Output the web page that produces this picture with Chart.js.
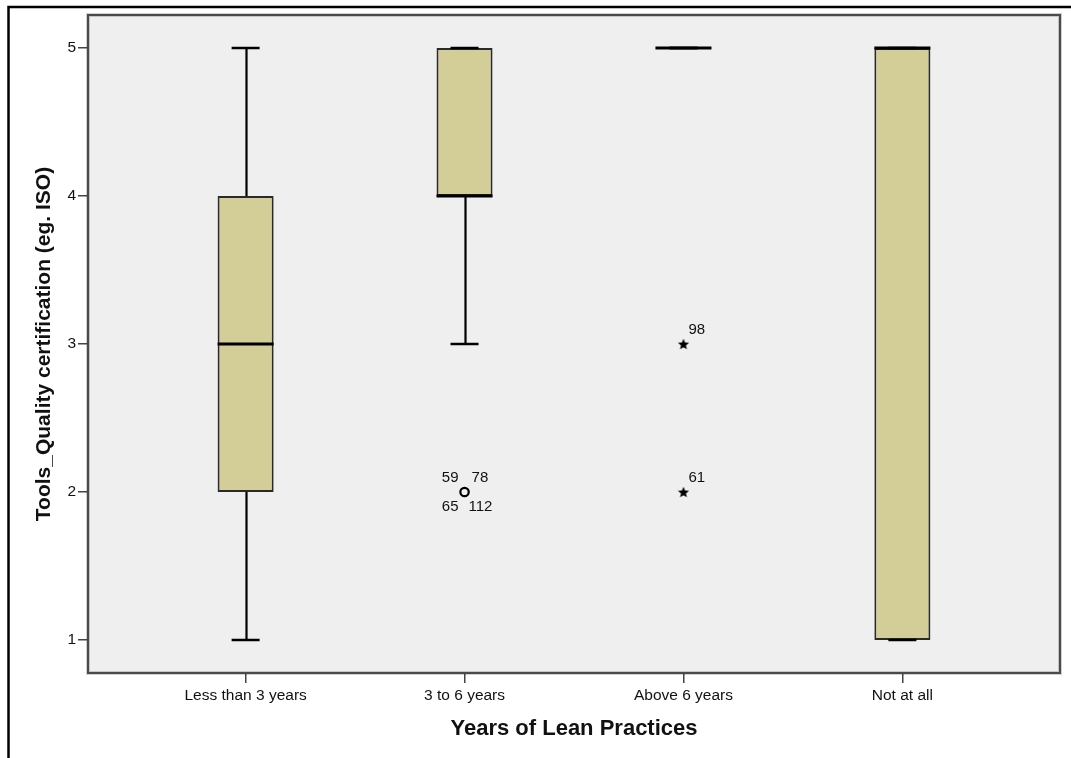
<!DOCTYPE html>
<html>
<head>
<meta charset="utf-8">
<title>Tools_Quality certification by Years of Lean Practices</title>
<script src="https://cdn.jsdelivr.net/npm/chart.js@4.4.1/dist/chart.umd.min.js"></script>
<style>
  html, body { margin: 0; padding: 0; background: #ffffff; }
  #wrap { width: 1071px; height: 758px; position: relative; }
</style>
</head>
<body>
<div id="wrap"><canvas id="chart" width="1071" height="758"></canvas></div>
<script>
// Box plot summary per group
const categories = ['Less than 3 years', '3 to 6 years', 'Above 6 years', 'Not at all'];
const whiskerLow  = [1, 3, 5, 1];
const quartile1   = [2, 4, 5, 1];
const medians     = [3, 4, 5, 5];
const quartile3   = [4, 5, 5, 5];
const whiskerHigh = [5, 5, 5, 5];
const yTicks = [1, 2, 3, 4, 5];

// Outliers (circles) and extremes (stars): group index, value, case numbers
const outlierGroup = [1];
const outlierValue = [2];
const outlierCases = [['59', '78', '65', '112']];
const extremeGroup = [2, 2];
const extremeValue = [3, 2];
const extremeCases = [['98'], ['61']];

const BOX_WIDTH = 0.256;   // in category units
const CAP_WIDTH = 0.128;
const TEXT = '#111';
const SANS = '"Liberation Sans", Arial, sans-serif';

function makeStar(r) {
  const s = Math.ceil(r * 2 + 2);
  const cv = document.createElement('canvas');
  cv.width = s; cv.height = s;
  const g = cv.getContext('2d');
  g.fillStyle = '#000';
  g.beginPath();
  for (let k = 0; k < 10; k++) {
    const rad = k % 2 ? r * 0.45 : r;
    const a = -Math.PI / 2 + k * Math.PI / 5;
    g.lineTo(s / 2 + rad * Math.cos(a), s / 2 + rad * Math.sin(a) + 0.6);
  }
  g.closePath();
  g.fill();
  return cv;
}
const starMark = makeStar(5.8);

const plotFrame = {
  id: 'plotFrame',
  beforeDraw(chart) {
    const { ctx, chartArea: a } = chart;
    ctx.save();
    ctx.fillStyle = '#efefef';
    ctx.fillRect(a.left, a.top, a.right - a.left, a.bottom - a.top);
    ctx.restore();
  },
  afterDraw(chart) {
    const { ctx, chartArea: a } = chart;
    ctx.save();
    // soft halo then the frame line
    ctx.strokeStyle = 'rgba(0,0,0,0.18)';
    ctx.lineWidth = 4;
    ctx.strokeRect(a.left, a.top, a.right - a.left, a.bottom - a.top);
    ctx.strokeStyle = '#4a4a4a';
    ctx.lineWidth = 2;
    ctx.strokeRect(a.left, a.top, a.right - a.left, a.bottom - a.top);
    // outer page frame
    ctx.strokeStyle = '#000';
    ctx.lineWidth = 2.5;
    ctx.beginPath();
    ctx.moveTo(8.5, chart.height);
    ctx.lineTo(8.5, 7);
    ctx.lineTo(chart.width, 7);
    ctx.stroke();
    ctx.restore();
  }
};

const boxLines = {
  id: 'boxLines',
  beforeDatasetsDraw(chart) {
    const { ctx, scales: { x, y } } = chart;
    ctx.save();
    ctx.strokeStyle = '#000';
    ctx.lineWidth = 2.2;
    categories.forEach((_, i) => {
      const cx = Math.round(x.getPixelForValue(i)) + 0.5;
      ctx.beginPath();
      if (whiskerLow[i] < quartile1[i]) {
        ctx.moveTo(cx, y.getPixelForValue(whiskerLow[i]));
        ctx.lineTo(cx, y.getPixelForValue(quartile1[i]));
      }
      if (whiskerHigh[i] > quartile3[i]) {
        ctx.moveTo(cx, y.getPixelForValue(quartile3[i]));
        ctx.lineTo(cx, y.getPixelForValue(whiskerHigh[i]));
      }
      ctx.stroke();
    });
    ctx.restore();
  },
  afterDatasetsDraw(chart) {
    const { ctx, scales: { x, y } } = chart;
    ctx.save();
    ctx.strokeStyle = '#000';
    categories.forEach((_, i) => {
      // whisker caps
      ctx.lineWidth = 2.5;
      const c0 = x.getPixelForValue(i - CAP_WIDTH / 2);
      const c1 = x.getPixelForValue(i + CAP_WIDTH / 2);
      [whiskerLow[i], whiskerHigh[i]].forEach(v => {
        const py = y.getPixelForValue(v);
        ctx.beginPath(); ctx.moveTo(c0, py); ctx.lineTo(c1, py); ctx.stroke();
      });
      // median
      ctx.lineWidth = 3;
      const b0 = x.getPixelForValue(i - BOX_WIDTH / 2);
      const b1 = x.getPixelForValue(i + BOX_WIDTH / 2);
      const my = y.getPixelForValue(medians[i]);
      ctx.beginPath(); ctx.moveTo(b0, my); ctx.lineTo(b1, my); ctx.stroke();
    });

    // case labels around outlier / extreme marks
    ctx.fillStyle = TEXT;
    ctx.font = '15px ' + SANS;
    ctx.textBaseline = 'middle';
    const labelGroup = (meta, casesList) => {
      meta.data.forEach((pt, k) => {
        const cases = casesList[k];
        if (cases.length === 1) {
          ctx.textAlign = 'left';
          ctx.fillText(cases[0], pt.x + 5, pt.y - 14.5);
          return;
        }
        cases.forEach((t, j) => {
          const right = j % 2 === 1;
          const below = j >= 2;
          ctx.textAlign = right ? 'left' : 'right';
          ctx.fillText(t, right ? pt.x + (below ? 4 : 7) : pt.x - 6, below ? pt.y + 14.5 : pt.y - 14.5);
        });
      });
    };
    labelGroup(chart.getDatasetMeta(1), outlierCases);
    labelGroup(chart.getDatasetMeta(2), extremeCases);
    ctx.restore();
  }
};

new Chart(document.getElementById('chart'), {
  type: 'bar',
  data: {
    datasets: [
      {
        type: 'bar',
        data: categories.map((_, i) => ({ x: i, y: [quartile1[i], quartile3[i]] })),
        backgroundColor: '#d3ce97',
        borderColor: '#2a2a2a',
        borderWidth: 2,
        borderSkipped: false,
        categoryPercentage: 1,
        barPercentage: BOX_WIDTH,
        grouped: false
      },
      {
        type: 'scatter',
        data: outlierGroup.map((g, k) => ({ x: g, y: outlierValue[k] })),
        pointStyle: 'circle',
        pointRadius: 4.2,
        borderColor: '#000',
        borderWidth: 2.2,
        backgroundColor: 'rgba(0,0,0,0)'
      },
      {
        type: 'scatter',
        data: extremeGroup.map((g, k) => ({ x: g, y: extremeValue[k] })),
        pointStyle: starMark,
        pointRadius: 6
      }
    ]
  },
  options: {
    responsive: false,
    animation: false,
    events: [],
    layout: { padding: { left: 0, top: 15, right: 11, bottom: 0 } },
    plugins: { legend: { display: false }, tooltip: { enabled: false } },
    scales: {
      x: {
        type: 'linear',
        min: -0.72,
        max: 3.72,
        offset: false,
        afterBuildTicks: s => { s.ticks = categories.map((_, i) => ({ value: i })); },
        afterFit: s => { s.height = 85; },
        ticks: {
          autoSkip: false,
          maxRotation: 0,
          padding: 3,
          color: TEXT,
          font: { family: SANS, size: 15.5 },
          callback: v => categories[v]
        },
        grid: { offset: false, drawOnChartArea: false, drawTicks: true, tickLength: 10, color: '#444', lineWidth: 1.5 },
        border: { display: false },
        title: {
          display: true,
          text: 'Years of Lean Practices',
          color: '#111',
          font: { family: SANS, size: 22, weight: 'bold' },
          padding: { top: 0, bottom: 16 }
        }
      },
      y: {
        type: 'linear',
        min: 0.777,
        max: 5.223,
        afterBuildTicks: s => { s.ticks = yTicks.map(v => ({ value: v })); },
        afterFit: s => { s.width = 88; },
        ticks: {
          padding: 2,
          color: TEXT,
          font: { family: SANS, size: 15.5 }
        },
        grid: { drawOnChartArea: false, drawTicks: true, tickLength: 10, color: '#444', lineWidth: 1.5 },
        border: { display: false },
        title: {
          display: true,
          text: 'Tools_Quality certification (eg. ISO)',
          color: '#111',
          font: { family: SANS, size: 21, weight: 'bold' },
          padding: { top: 32, bottom: 0 }
        }
      }
    }
  },
  plugins: [plotFrame, boxLines]
});
</script>
</body>
</html>
